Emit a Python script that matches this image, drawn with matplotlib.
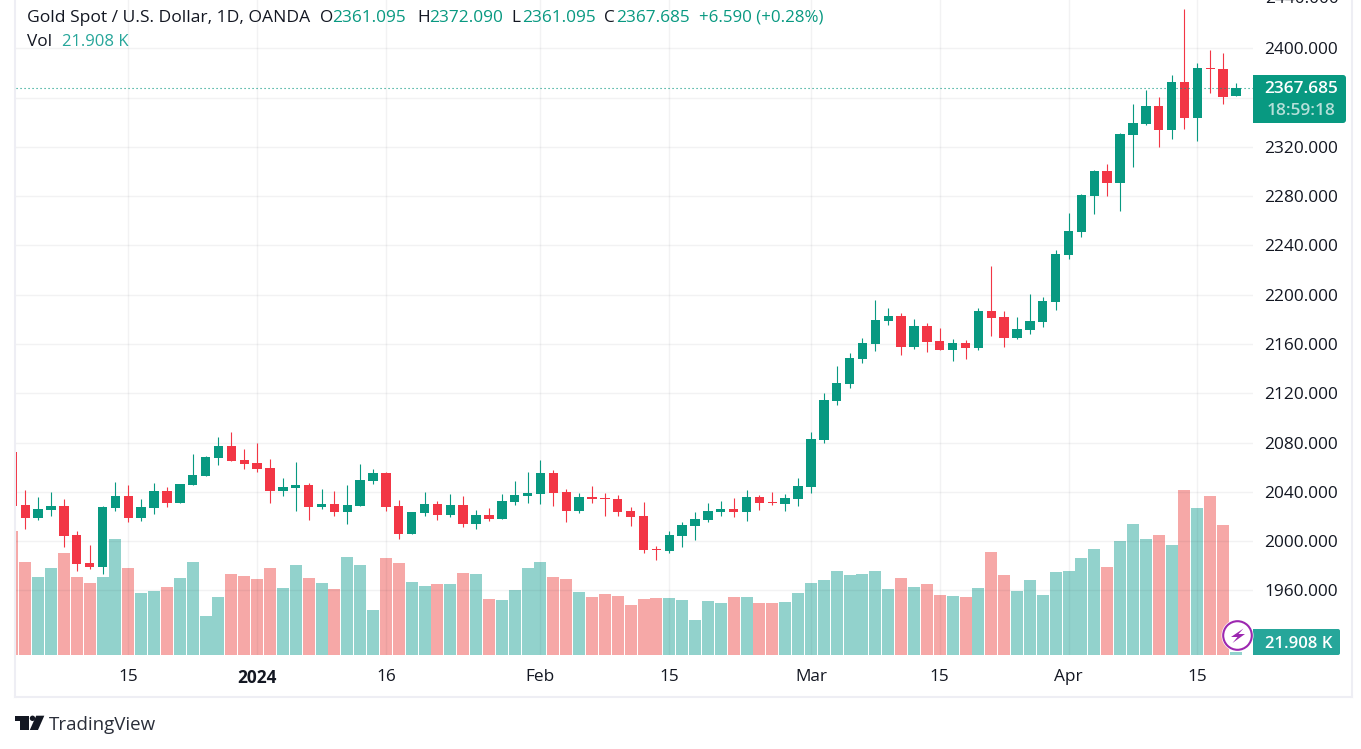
import matplotlib
matplotlib.use('Agg')
import matplotlib.pyplot as plt
from matplotlib.patches import Rectangle, FancyBboxPatch, Circle, Polygon

plt.rcParams['font.family'] = ['Open Sans', 'DejaVu Sans']

# daily candles, oldest first
opens = [2072.3, 2029.3, 2018.8, 2025.2, 2028.5, 2005.0, 1982.2, 1979.0, 2026.9, 2036.6,
         2018.8, 2026.9, 2040.7, 2030.9, 2045.5, 2052.8, 2067.5, 2077.2, 2065.8, 2063.4,
         2059.3, 2040.7, 2043.1, 2045.5, 2027.7, 2030.1, 2023.6, 2028.5, 2048.8, 2055.3,
         2028.5, 2005.8, 2022.8, 2030.1, 2021.2, 2029.3, 2013.9, 2021.2, 2017.9, 2031.7,
         2036.6, 2038.2, 2055.3, 2039.9, 2024.4, 2035.8, 2035.0, 2034.2, 2024.4, 2020.4,
         1993.6, 1991.9, 2004.1, 2012.2, 2017.1, 2023.6, 2026.0, 2023.6, 2035.8, 2031.7,
         2030.1, 2034.2, 2043.9, 2082.0, 2113.7, 2127.5, 2147.8, 2160.0, 2178.6, 2182.7,
         2157.5, 2174.6, 2162.4, 2155.1, 2160.8, 2156.7, 2186.8, 2181.9, 2164.8, 2171.3,
         2177.8, 2194.1, 2232.2, 2250.9, 2280.1, 2300.4, 2290.7, 2329.6, 2338.6, 2353.2,
         2333.7, 2372.6, 2343.4, 2384.0, 2383.2, 2361.095]
highs = [2072.3, 2041.5, 2035.8, 2039.9, 2034.2, 2008.2, 1996.8, 2028.5, 2048.0, 2045.5,
         2034.2, 2047.2, 2043.9, 2046.4, 2070.7, 2069.1, 2084.5, 2088.6, 2074.8, 2079.6,
         2066.6, 2051.2, 2064.2, 2047.2, 2042.3, 2040.7, 2045.5, 2062.6, 2058.5, 2056.1,
         2033.4, 2023.6, 2039.9, 2032.6, 2038.2, 2036.6, 2025.2, 2026.9, 2038.2, 2048.8,
         2056.1, 2065.8, 2057.7, 2042.3, 2039.0, 2044.7, 2039.0, 2037.4, 2027.7, 2031.7,
         1996.0, 2008.2, 2015.5, 2023.6, 2030.9, 2032.5, 2035.0, 2041.5, 2037.4, 2039.8,
         2038.2, 2051.2, 2088.5, 2120.2, 2142.1, 2152.7, 2164.8, 2195.7, 2189.2, 2185.1,
         2180.3, 2177.0, 2173.0, 2164.0, 2163.2, 2189.2, 2223.3, 2186.8, 2181.9, 2200.6,
         2198.1, 2236.3, 2266.3, 2281.7, 2301.2, 2306.1, 2331.2, 2354.8, 2366.1, 2360.5,
         2378.3, 2431.9, 2388.1, 2398.6, 2396.2, 2372.09]
lows = [2028.5, 2009.8, 2017.1, 2020.4, 1995.2, 1975.7, 1977.4, 1973.6, 2024.4, 2015.5,
        2016.3, 2022.0, 2027.7, 2030.9, 2045.5, 2052.8, 2061.8, 2065.0, 2058.5, 2056.1,
        2030.9, 2036.6, 2024.4, 2017.1, 2026.1, 2020.4, 2013.9, 2028.5, 2046.4, 2024.4,
        2001.7, 2005.8, 2020.4, 2017.1, 2019.6, 2011.4, 2009.8, 2016.3, 2017.9, 2029.3,
        2030.9, 2030.1, 2028.5, 2015.5, 2022.8, 2030.9, 2020.4, 2020.4, 2012.3, 1990.3,
        1984.7, 1990.3, 1995.2, 2000.9, 2015.5, 2020.4, 2019.5, 2016.3, 2025.2, 2029.3,
        2024.4, 2028.5, 2039.0, 2079.6, 2110.5, 2124.3, 2144.5, 2154.3, 2175.4, 2151.0,
        2155.9, 2153.5, 2155.1, 2146.2, 2147.8, 2155.1, 2166.5, 2157.5, 2164.0, 2168.1,
        2173.8, 2187.6, 2229.0, 2246.8, 2265.5, 2280.1, 2267.9, 2303.6, 2337.7, 2319.9,
        2326.4, 2334.5, 2324.8, 2363.7, 2354.8, 2361.095]
closes = [2028.5, 2018.8, 2026.1, 2028.5, 2004.1, 1981.4, 1979.0, 2027.7, 2036.6, 2018.8,
          2027.7, 2040.7, 2030.9, 2046.4, 2053.7, 2068.3, 2077.2, 2065.0, 2062.6, 2058.5,
          2040.7, 2043.9, 2045.5, 2027.7, 2030.1, 2023.6, 2029.3, 2049.6, 2055.3, 2027.7,
          2005.8, 2023.6, 2030.1, 2021.2, 2029.3, 2013.9, 2021.2, 2017.9, 2032.6, 2037.4,
          2039.0, 2055.3, 2039.0, 2024.4, 2035.8, 2034.2, 2034.2, 2023.6, 2019.6, 1992.8,
          1992.8, 2004.9, 2013.1, 2017.9, 2024.4, 2026.0, 2023.6, 2035.8, 2030.9, 2030.9,
          2035.0, 2044.7, 2082.9, 2114.5, 2128.3, 2148.6, 2160.8, 2179.4, 2182.7, 2157.5,
          2174.6, 2161.6, 2155.1, 2160.8, 2156.7, 2186.8, 2181.1, 2164.8, 2172.2, 2178.6,
          2194.9, 2233.0, 2251.7, 2280.9, 2300.4, 2290.7, 2330.4, 2339.4, 2353.2, 2333.7,
          2372.6, 2343.4, 2384.0, 2383.2, 2360.5, 2367.685]
# volume in thousands
volumes = [992, 744, 624, 696, 816, 624, 576, 624, 928, 696,
           496, 512, 544, 616, 744, 312, 464, 648, 632, 608,
           696, 536, 720, 616, 576, 528, 784, 720, 360, 776,
           736, 584, 552, 568, 568, 656, 648, 448, 440, 520,
           696, 744, 624, 608, 504, 464, 488, 472, 400, 448,
           456, 456, 440, 280, 432, 416, 464, 464, 416, 416,
           424, 496, 576, 600, 672, 640, 648, 672, 528, 616,
           544, 568, 480, 472, 464, 536, 824, 640, 512, 600,
           480, 664, 672, 776, 848, 704, 912, 1048, 928, 960,
           880, 1320, 1176, 1272, 1040, 21.908]

date_ticks = [9, 19, 29, 41, 51, 62, 72, 82, 92]
date_labels = ['15', '2024', '16', 'Feb', '15', 'Mar', '15', 'Apr', '15']
price_ticks = [1960, 2000, 2040, 2080, 2120, 2160, 2200, 2240, 2280, 2320, 2360, 2400]

GREEN = '#089981'
RED = '#F23645'
VOL_GREEN = '#26A69A'
VOL_RED = '#EF5350'
DARK = '#131722'
FRAME = '#EEEEF4'
FONT = 12.4

W, H = 1361, 749
fig = plt.figure(figsize=(W/100, H/100), dpi=100, facecolor='white')
rect = [16/W, (H-655)/H, (1253-16)/W, 655/H]

# volume pane sits under the price pane, same box
vax = fig.add_axes(rect, zorder=1)
ax = fig.add_axes(rect, zorder=2)
ax.patch.set_visible(False)

xs = list(range(len(closes)))
up = [c >= o for o, c in zip(opens, closes)]
cols = [GREEN if u else RED for u in up]

vax.bar(xs, volumes, width=0.93, linewidth=0, alpha=0.5,
        color=[VOL_GREEN if u else VOL_RED for u in up])
vax.set_xlim(0.28, 96.32)
vax.set_ylim(0, 5240)
vax.axis('off')

ax.vlines(xs, lows, highs, colors=cols, linewidth=0.8, zorder=3)
bottoms = [min(o, c) for o, c in zip(opens, closes)]
heights = [max(abs(o - c), 0.8) for o, c in zip(opens, closes)]
ax.bar(xs, heights, bottom=bottoms, width=0.73, color=cols, linewidth=0, zorder=4)
ax.axhline(closes[-1], color=GREEN, linewidth=0.8, linestyle=(0, (1, 2.6)), zorder=5)

ax.set_xlim(0.28, 96.32)
ax.set_ylim(1907.6, 2439.2)
ax.set_axisbelow(True)
ax.grid(True, color='#2A2E39', alpha=0.06, linewidth=1.0)
for s in ax.spines.values():
    s.set_visible(False)

ax.set_xticks(date_ticks)
ax.set_xticklabels(date_labels)
ax.yaxis.tick_right()
ax.set_yticks(price_ticks)
# 2360 sits behind the last price tag, so its label is left out
ax.set_yticklabels(['' if p == 2360 else '%.3f' % p for p in price_ticks])
ax.tick_params(axis='both', length=0, labelsize=FONT, labelcolor=DARK)
ax.tick_params(axis='x', pad=10)
ax.tick_params(axis='y', pad=8)
for lab, txt in zip(ax.get_xticklabels(), date_labels):
    if txt == '2024':
        lab.set_fontweight('bold')
# top label is cut by the edge of the picture
ax.text(1.0095, 2440, '2440.000', transform=ax.get_yaxis_transform(), fontsize=FONT,
        color=DARK, va='center', ha='left', clip_on=False)

# overlay in pixel coordinates for header, labels, frame and logo
ov = fig.add_axes([0, 0, 1, 1], zorder=5)
ov.set_xlim(0, W)
ov.set_ylim(H, 0)
ov.axis('off')

ov.plot([15, 15], [0, 697], color=FRAME, linewidth=1.5)
ov.plot([15, 1352], [697, 697], color=FRAME, linewidth=1.5)
ov.plot([1352, 1352], [0, 697], color=FRAME, linewidth=1.5)

# header
ov.text(27, 17.5, 'Gold Spot / U.S. Dollar, 1D, OANDA', fontsize=12.6, color=DARK, va='center')
for x0, key, x1, val in [(320, 'O', 332, '%.3f' % opens[-1]), (417, 'H', 429, '%.3f' % highs[-1]),
                         (511, 'L', 522, '%.3f' % lows[-1]), (604, 'C', 616, '%.3f' % closes[-1])]:
    ov.text(x0, 17.5, key, fontsize=FONT, color=DARK, va='center')
    ov.text(x1, 17.5, val, fontsize=FONT, color=GREEN, va='center')
ov.text(699, 17.5, '+6.590 (+0.28%)', fontsize=12.2, color=GREEN, va='center')
ov.text(27, 42.5, 'Vol', fontsize=FONT, color=DARK, va='center')
ov.text(62, 42.5, '21.908 K', fontsize=12.0, color=VOL_GREEN, va='center')

# last price tag
ov.add_patch(FancyBboxPatch((1256, 78), 87, 42, boxstyle='round,pad=3,rounding_size=3',
                            facecolor=GREEN, edgecolor='none'))
ov.add_patch(Rectangle((1253, 75), 6, 48, facecolor=GREEN, edgecolor='none'))
ov.text(1301, 89, '%.3f' % closes[-1], fontsize=FONT, color='white', fontweight='semibold',
        ha='center', va='center')
ov.text(1301, 111, '18:59:18', fontsize=FONT, color='#B5E0D9', fontweight='semibold',
        ha='center', va='center')

# volume tag
ov.add_patch(FancyBboxPatch((1255, 631), 83, 22, boxstyle='round,pad=2,rounding_size=2',
                            facecolor=VOL_GREEN, edgecolor='none'))
ov.add_patch(Rectangle((1253, 629), 6, 26, facecolor=VOL_GREEN, edgecolor='none'))
ov.text(1299, 643.5, '21.908 K', fontsize=12.0, color='white', fontweight='semibold',
        ha='center', va='center')

# lightning badge
ov.add_patch(Circle((1237.5, 635.5), 16, facecolor='white', edgecolor='none', zorder=6))
ov.add_patch(Circle((1237.5, 635.5), 14.3, facecolor='white', edgecolor='#9C27B0',
                    linewidth=1.5, zorder=7))
ov.add_patch(Polygon([(1243.5, 628.5), (1231, 637), (1237.5, 637), (1232.5, 643),
                      (1245, 634), (1238.5, 634)],
                     facecolor='#9C27B0', edgecolor='none', zorder=8))

# logo
ov.add_patch(Polygon([(15, 715.7), (29, 715.7), (29, 730), (20.5, 730), (20.5, 720.5), (15, 720.5)],
                     facecolor=DARK, edgecolor='none'))
ov.add_patch(Circle((32.5, 718.3), 2.7, facecolor=DARK, edgecolor='none'))
ov.add_patch(Polygon([(36.2, 715.7), (44.3, 715.7), (38, 730), (29.8, 730)],
                     facecolor=DARK, edgecolor='none'))
ov.text(49, 725, 'TradingView', fontsize=13.5, color='#2A2E39', va='center')

fig.savefig('out.png', dpi=100)
